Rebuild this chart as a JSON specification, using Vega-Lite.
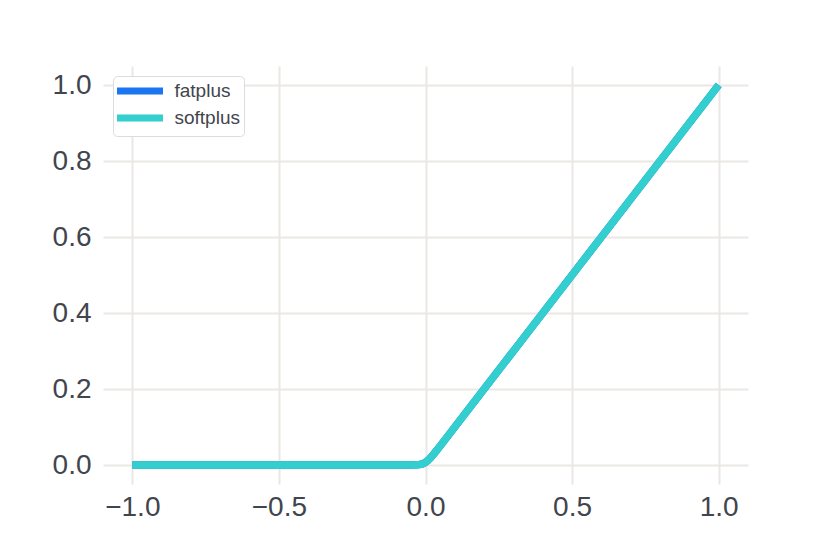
{
  "$schema": "https://vega.github.io/schema/vega-lite/v6.json",
  "width": 645,
  "height": 418,
  "autosize": {"type": "none"},
  "padding": {"left": 103, "top": 66, "right": 82, "bottom": 70},
  "background": "white",
  "data": {
    "values": [
      {"series": "fatplus", "x": -1.0, "y": 0.0},
      {"series": "fatplus", "x": -0.5, "y": 0.0},
      {"series": "fatplus", "x": -0.1, "y": 0.0},
      {"series": "fatplus", "x": -0.05, "y": 0.00007},
      {"series": "fatplus", "x": -0.03, "y": 0.00049},
      {"series": "fatplus", "x": -0.02, "y": 0.00127},
      {"series": "fatplus", "x": -0.01, "y": 0.00313},
      {"series": "fatplus", "x": 0.0, "y": 0.00693},
      {"series": "fatplus", "x": 0.01, "y": 0.01313},
      {"series": "fatplus", "x": 0.02, "y": 0.02127},
      {"series": "fatplus", "x": 0.03, "y": 0.03049},
      {"series": "fatplus", "x": 0.05, "y": 0.05007},
      {"series": "fatplus", "x": 0.1, "y": 0.1},
      {"series": "fatplus", "x": 0.5, "y": 0.5},
      {"series": "fatplus", "x": 1.0, "y": 1.0},
      {"series": "softplus", "x": -1.0, "y": 0.0},
      {"series": "softplus", "x": -0.5, "y": 0.0},
      {"series": "softplus", "x": -0.1, "y": 0.0},
      {"series": "softplus", "x": -0.05, "y": 0.00007},
      {"series": "softplus", "x": -0.03, "y": 0.00049},
      {"series": "softplus", "x": -0.02, "y": 0.00127},
      {"series": "softplus", "x": -0.01, "y": 0.00313},
      {"series": "softplus", "x": 0.0, "y": 0.00693},
      {"series": "softplus", "x": 0.01, "y": 0.01313},
      {"series": "softplus", "x": 0.02, "y": 0.02127},
      {"series": "softplus", "x": 0.03, "y": 0.03049},
      {"series": "softplus", "x": 0.05, "y": 0.05007},
      {"series": "softplus", "x": 0.1, "y": 0.1},
      {"series": "softplus", "x": 0.5, "y": 0.5},
      {"series": "softplus", "x": 1.0, "y": 1.0}
    ]
  },
  "mark": {"type": "line", "strokeWidth": 7.5, "strokeCap": "butt", "strokeJoin": "round", "clip": false},
  "encoding": {
    "x": {
      "field": "x", "type": "quantitative",
      "scale": {"domain": [-1.1, 1.1], "nice": false, "zero": false},
      "axis": {"title": null, "values": [-1, -0.5, 0, 0.5, 1], "format": ".1f", "domain": false, "ticks": false,
               "labelFontSize": 28, "labelPadding": 9, "labelColor": "#41454d", "labelFont": "Liberation Sans",
               "gridColor": "#ebe7e3", "gridWidth": 2}
    },
    "y": {
      "field": "y", "type": "quantitative",
      "scale": {"domain": [-0.05, 1.05], "nice": false, "zero": false},
      "axis": {"title": null, "values": [0, 0.2, 0.4, 0.6, 0.8, 1.0], "format": ".1f", "domain": false, "ticks": false,
               "labelFontSize": 28, "labelPadding": 12, "labelColor": "#41454d", "labelFont": "Liberation Sans",
               "gridColor": "#ebe7e3", "gridWidth": 2}
    },
    "color": {
      "field": "series", "type": "nominal",
      "scale": {"domain": ["fatplus", "softplus"], "range": ["#1a75f0", "#33cfcf"]},
      "legend": {
        "title": null, "orient": "top-left", "offset": 10,
        "symbolType": "M-1.375,0H4.375", "symbolSize": 256, "symbolStrokeWidth": 7,
        "labelFontSize": 19, "labelColor": "#41454d", "labelFont": "Liberation Sans", "labelOffset": 35,
        "strokeColor": "#dcdcdc", "cornerRadius": 4, "padding": 3.5, "fillColor": "white", "rowPadding": -2
      }
    }
  },
  "config": {"view": {"stroke": null}}
}
